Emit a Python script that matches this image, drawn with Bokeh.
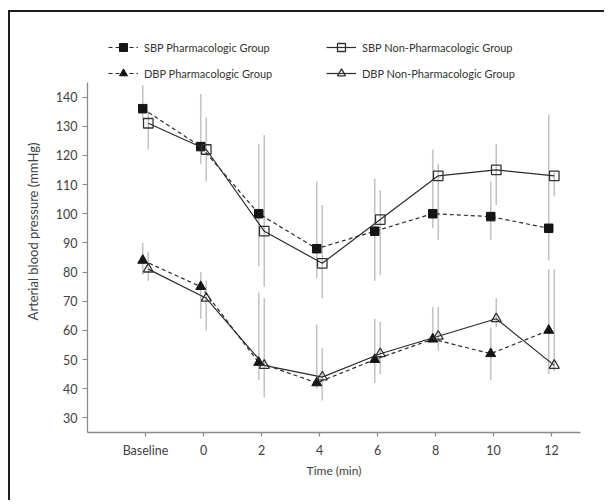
from bokeh.plotting import figure
from bokeh.models import ColumnDataSource, Legend, LegendItem, FixedTicker, Range1d
from bokeh.transform import dodge
from bokeh.embed import file_html
from bokeh.resources import INLINE

# ---- data ----
times = [-2, 0, 2, 4, 6, 8, 10, 12]
tick_labels = ["Baseline", "0", "2", "4", "6", "8", "10", "12"]

sbp_ph = [136, 123, 100, 88, 94, 100, 99, 95]
sbp_ph_hi = [144, 141, 124, 111, 112, 122, 111, 134]
sbp_ph_lo = [132, 117, 82, 78, 77, 95, 91, 84]

sbp_np = [131, 122, 94, 83, 98, 113, 115, 113]
sbp_np_hi = [135, 133, 127, 103, 108, 117, 124, 114]
sbp_np_lo = [122, 111, 75, 71, 79, 91, 103, 106]

dbp_ph = [84, 75, 49, 42, 50, 57, 52, 60]
dbp_ph_hi = [90, 80, 73, 62, 64, 68, 61, 81]
dbp_ph_lo = [79, 64, 43, 40, 42, 56, 43, 45]

dbp_np = [81, 71, 48, 44, 52, 58, 64, 48]
dbp_np_hi = [87, 77, 71, 54, 63, 68, 71, 81]
dbp_np_lo = [77, 60, 37, 36, 45, 53, 61, 46]

FONT = "Lato"
LINE = "#2b2b2b"
BAR = "#c4c4c4"

# frame reaches up over the legend area; the y axis itself is bounded to 25..145
p = figure(width=596, height=490, output_backend="svg", toolbar_location=None,
           x_range=Range1d(-4, 13), y_range=Range1d(25, 162.8),
           min_border_left=77, min_border_top=18, min_border_right=26, min_border_bottom=70)
p.margin = (10, 0, 0, 8)
p.styles = {"border-left": "2px solid #1e1e1e", "border-top": "2px solid #1e1e1e"}
p.outline_line_color = None
p.grid.visible = False
p.background_fill_color = "white"
p.border_fill_color = "white"

src = ColumnDataSource(dict(t=times,
                            sbp_ph=sbp_ph, sbp_ph_hi=sbp_ph_hi, sbp_ph_lo=sbp_ph_lo,
                            sbp_np=sbp_np, sbp_np_hi=sbp_np_hi, sbp_np_lo=sbp_np_lo,
                            dbp_ph=dbp_ph, dbp_ph_hi=dbp_ph_hi, dbp_ph_lo=dbp_ph_lo,
                            dbp_np=dbp_np, dbp_np_hi=dbp_np_hi, dbp_np_lo=dbp_np_lo))

OFF = 0.095
xl = dodge("t", -OFF, range=p.x_range)
xr = dodge("t", OFF, range=p.x_range)

# error bars
for key, xx in (("sbp_ph", xl), ("sbp_np", xr), ("dbp_ph", xl), ("dbp_np", xr)):
    p.segment(x0=xx, x1=xx, y0=key + "_lo", y1=key + "_hi", source=src,
              line_color=BAR, line_width=1.6)

items = []
def series(key, xx, dash, marker, filled, label):
    ln = p.line(x=xx, y=key, source=src, line_color=LINE, line_width=1.2, line_dash=dash)
    if filled:
        size = 8.5 if marker == "square" else 10
        sc = p.scatter(x=xx, y=key, source=src, marker=marker, size=size,
                       fill_color="#151515", line_color="#151515", line_width=1)
    else:
        size = 9.5 if marker == "square" else 10
        sc = p.scatter(x=xx, y=key, source=src, marker=marker, size=size,
                       fill_color=None, line_color="#333333", line_width=1.3)
    items.append(LegendItem(label=label, renderers=[ln, sc]))

series("sbp_ph", xl, "4 3", "square", True, "SBP Pharmacologic Group")
series("sbp_np", xr, "solid", "square", False, "SBP Non-Pharmacologic Group")
series("dbp_ph", xl, "4 3", "triangle", True, "DBP Pharmacologic Group")
series("dbp_np", xr, "solid", "triangle", False, "DBP Non-Pharmacologic Group")

legend = Legend(items=items, location=(21, 349), orientation="horizontal", ncols=2,
                glyph_width=30, glyph_height=20, label_standoff=6, spacing=6,
                padding=0, margin=0, border_line_color=None, background_fill_alpha=0,
                label_text_font=FONT, label_text_font_size="11px", label_text_color="#333333",
                label_width=176)
p.add_layout(legend, "center")

# axes
for ax in (p.xaxis[0], p.yaxis[0]):
    ax.axis_line_color = "#8a8a8a"
    ax.axis_line_width = 1.3
    ax.major_tick_line_color = "#8a8a8a"
    ax.major_tick_line_width = 1.2
    ax.minor_tick_line_color = None
    ax.major_tick_in = 0
    ax.major_label_text_font = FONT
    ax.major_label_text_font_size = "12.5px"
    ax.major_label_text_color = "#404040"
    ax.axis_label_text_font = FONT
    ax.axis_label_text_font_style = "normal"
    ax.axis_label_text_color = "#404040"
    ax.axis_label_text_font_size = "12px"

p.yaxis.ticker = FixedTicker(ticks=list(range(30, 141, 10)))
p.yaxis.bounds = (25, 145)
p.yaxis.major_tick_out = 5
p.yaxis.axis_label = "Arterial blood pressure (mmHg)"
p.yaxis.axis_label_text_font_size = "13px"
p.yaxis.axis_label_standoff = 12

p.xaxis.ticker = FixedTicker(ticks=times)
p.xaxis.major_label_overrides = {t: s for t, s in zip(times, tick_labels)}
p.xaxis.major_tick_out = 4
p.xaxis.major_label_standoff = 6
p.xaxis.axis_label = "Time (min)"
p.xaxis.axis_label_standoff = 2

open("out.html", "w").write(file_html(p, INLINE))
